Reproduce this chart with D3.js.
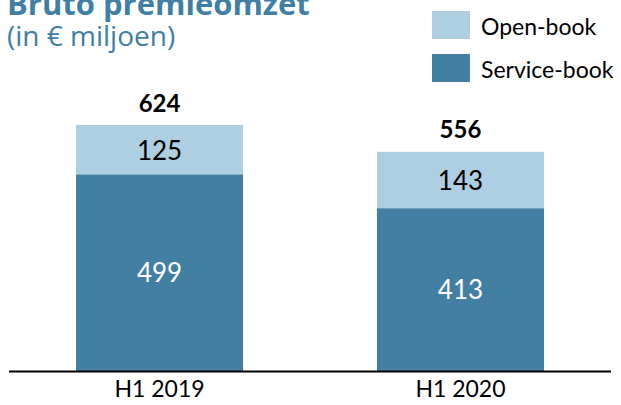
<!DOCTYPE html>
<meta charset="utf-8">
<script src="https://d3js.org/d3.v7.min.js"></script>
<style>
    body { margin: 0; background: #fff; }
    svg { display: block; }
</style>
<div id="chart"></div>
<script>
    // data
    var categories = ['H1 2019', 'H1 2020'];
    var serviceBook = [499, 413];
    var openBook = [125, 143];
    var totals = [624, 556];
    var seriesNames = ['Open-book', 'Service-book'];

    var width = 621,
        height = 405,
        darkBlue = '#427fa3',
        lightBlue = '#aecfe1',
        titleColor = '#3f7fa3',
        labelFont = 'Lato, "Open Sans", sans-serif';

    var svg = d3.select('#chart').append('svg')
        .attr('width', width)
        .attr('height', height);

    var x = d3.scaleBand()
        .domain(categories)
        .range([9, 611])
        .paddingInner(0.445)
        .paddingOuter(0.2226);

    var y = d3.scaleLinear()
        .domain([0, 624])
        .range([371, 125]);

    var rows = categories.map(function(c, i) {
        return {cat: c, service: serviceBook[i], open: openBook[i], total: totals[i]};
    });

    // service-book (bottom)
    svg.append('g').selectAll('rect').data(rows)
        .enter().append('rect')
        .attr('x', d => x(d.cat))
        .attr('y', d => y(d.service))
        .attr('width', x.bandwidth())
        .attr('height', d => y(0) - y(d.service))
        .attr('fill', darkBlue);

    // open-book (top)
    svg.append('g').selectAll('rect').data(rows)
        .enter().append('rect')
        .attr('x', d => x(d.cat))
        .attr('y', d => y(d.service + d.open))
        .attr('width', x.bandwidth())
        .attr('height', d => y(d.service) - y(d.service + d.open))
        .attr('fill', lightBlue);

    // value labels
    var lbl = svg.append('g')
        .attr('font-family', labelFont)
        .attr('text-anchor', 'middle');

    lbl.selectAll('.sv').data(rows).enter().append('text')
        .attr('x', d => x(d.cat) + x.bandwidth() / 2)
        .attr('y', d => (y(0) + y(d.service)) / 2 + 9.5)
        .attr('font-size', 26)
        .attr('fill', '#fff')
        .text(d => d.service);

    lbl.selectAll('.ob').data(rows).enter().append('text')
        .attr('x', d => x(d.cat) + x.bandwidth() / 2)
        .attr('y', d => (y(d.service) + y(d.service + d.open)) / 2 + 10)
        .attr('font-size', 26)
        .attr('fill', '#000')
        .text(d => d.open);

    lbl.selectAll('.tot').data(rows).enter().append('text')
        .attr('x', d => x(d.cat) + x.bandwidth() / 2)
        .attr('y', d => y(d.total) - 13.5)
        .attr('font-size', 24)
        .attr('font-weight', 'bold')
        .attr('fill', '#000')
        .text(d => d.total);

    // x axis
    var xAxis = svg.append('g')
        .attr('transform', 'translate(0,' + y(0) + ')')
        .call(d3.axisBottom(x).tickSize(0).tickPadding(12));
    xAxis.select('.domain').attr('d', 'M9,0.5H611').attr('stroke', '#000').attr('stroke-width', 2);
    xAxis.selectAll('text')
        .attr('font-family', labelFont)
        .attr('font-size', 23)
        .attr('dy', '0.62em')
        .attr('fill', '#000');

    // title
    svg.append('text')
        .attr('x', 7).attr('y', 15)
        .attr('font-family', '"Open Sans", sans-serif')
        .attr('font-size', 31)
        .attr('font-weight', 'bold')
        .attr('fill', titleColor)
        .text('Bruto premieomzet');
    svg.append('text')
        .attr('x', 7).attr('y', 46)
        .attr('font-family', '"Open Sans", sans-serif')
        .attr('font-size', 28)
        .attr('fill', titleColor)
        .text('(in € miljoen)');

    // legend
    var legend = svg.append('g').selectAll('g').data(seriesNames)
        .enter().append('g')
        .attr('transform', (d, i) => 'translate(432,' + (11 + i * 43) + ')');
    legend.append('rect')
        .attr('width', 38).attr('height', 28)
        .attr('fill', (d, i) => i === 0 ? lightBlue : darkBlue);
    legend.append('text')
        .attr('x', 49).attr('y', 24)
        .attr('font-family', labelFont)
        .attr('font-size', 23)
        .attr('fill', '#000')
        .text(d => d);
</script>
